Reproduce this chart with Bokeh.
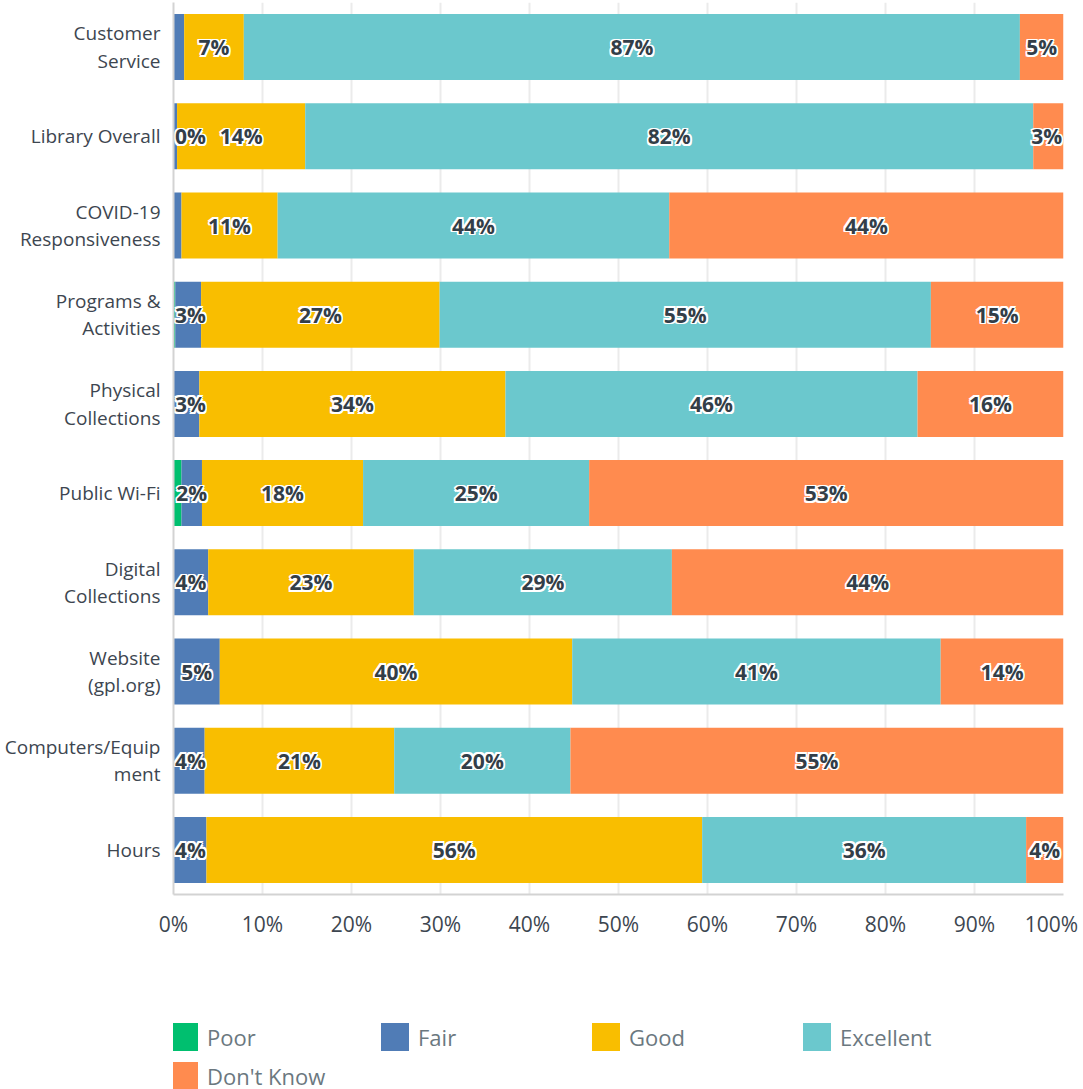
from bokeh.plotting import figure
from bokeh.layouts import column
from bokeh.models import ColumnDataSource, Range1d, FixedTicker, Legend, LegendItem
from bokeh.core.properties import value
from bokeh.embed import file_html
from bokeh.resources import INLINE

categories = ["Customer Service", "Library Overall", "COVID-19 Responsiveness",
              "Programs & Activities", "Physical Collections", "Public Wi-Fi",
              "Digital Collections", "Website (gpl.org)", "Computers/Equipment", "Hours"]
category_labels = ["Customer\nService", "Library Overall", "COVID-19\nResponsiveness",
                   "Programs &\nActivities", "Physical\nCollections", "Public Wi-Fi",
                   "Digital\nCollections", "Website\n(gpl.org)", "Computers/Equip\nment", "Hours"]
series = ["Poor", "Fair", "Good", "Excellent", "Don't Know"]
poor = [0, 0, 0, 0.2, 0, 0.9, 0, 0, 0, 0]
fair = [1.2, 0.4, 0.9, 2.9, 2.9, 2.3, 3.9, 5.2, 3.5, 3.7]
good = [6.7, 14.4, 10.8, 26.8, 34.4, 18.1, 23.1, 39.6, 21.3, 55.7]
excellent = [87.2, 81.8, 44.0, 55.2, 46.3, 25.4, 29.0, 41.4, 19.8, 36.4]
dont_know = [4.9, 3.4, 44.3, 14.9, 16.4, 53.3, 44.0, 13.8, 55.4, 4.2]
hidden_labels = [("Customer Service", "Fair"), ("COVID-19 Responsiveness", "Fair"),
                 ("Programs & Activities", "Poor"), ("Public Wi-Fi", "Poor")]
x_ticks = [0, 10, 20, 30, 40, 50, 60, 70, 80, 90, 100]
x_tick_labels = ["0%", "10%", "20%", "30%", "40%", "50%", "60%", "70%", "80%", "90%", "100%"]

colors = ["#00bf6f", "#507cb6", "#f9be00", "#6bc8cd", "#ff8b4f"]
FONT = "Open Sans"

n = len(categories)
ypos = [n - 1 - i for i in range(n)]
values = [poor, fair, good, excellent, dont_know]

data = {"y": ypos}
for s, v in zip(series, values):
    data[s] = v
source = ColumnDataSource(data)

p = figure(frame_width=890, frame_height=892,
           output_backend="svg", toolbar_location=None,
           x_range=Range1d(0, 100), y_range=Range1d(-0.5, n - 0.5),
           min_border_left=173, min_border_right=20, min_border_top=2, min_border_bottom=60,
           outline_line_color=None, background_fill_color="white")

renderers = p.hbar_stack(series, y="y", height=0.74, color=colors, line_color=None, source=source)

# data labels
lx, ly, lt = [], [], []
for i, cat in enumerate(categories):
    left = 0.0
    for s, v in zip(series, values):
        val = v[i]
        if val > 0 and (cat, s) not in hidden_labels:
            c = left + val / 2
            c = min(max(c, 1.9), 98.1)
            lx.append(c)
            ly.append(ypos[i])
            lt.append(f"{round(val)}%")
        left += val
lsrc = ColumnDataSource(dict(x=lx, y=ly, text=lt))
label_kw = dict(x="x", y="y", text="text", source=lsrc, text_align="center",
                text_baseline="middle", text_font=value(FONT), text_font_style="bold",
                text_font_size="21px")
d = 1.6
for dx, dy in [(-d, 0), (d, 0), (0, -d), (0, d), (-d, -d), (d, d), (-d, d), (d, -d)]:
    p.text(x_offset=dx, y_offset=dy, text_color="white", **label_kw)
p.text(text_color="#333e48", **label_kw)

# axes
tick_text = list(x_tick_labels)
tick_text[-1] = tick_text[-1] + "\u00a0"   # keep the last label inside the canvas
p.xaxis.ticker = FixedTicker(ticks=x_ticks)
p.xaxis.major_label_overrides = {t: l for t, l in zip(x_ticks, tick_text)}
p.yaxis.ticker = FixedTicker(ticks=ypos)
p.yaxis.major_label_overrides = {y: l for y, l in zip(ypos, category_labels)}
for ax in (p.xaxis, p.yaxis):
    ax.axis_line_color = "#d3d3d3"
    ax.axis_line_width = 2
    ax.major_tick_line_color = None
    ax.minor_tick_line_color = None
    ax.major_label_text_font = FONT
    ax.major_label_text_color = "#3d4650"
p.xaxis.major_label_text_font_size = "21px"
p.yaxis.major_label_text_font_size = "19px"
p.xaxis.major_label_standoff = 9
p.yaxis.major_label_standoff = 7
p.yaxis.major_label_text_line_height = 1.05
p.xgrid.ticker = FixedTicker(ticks=x_ticks)
p.xgrid.grid_line_color = "#ebebeb"
p.xgrid.grid_line_width = 2
p.ygrid.grid_line_color = None

# legend strip below the chart (proxy glyphs of zero size carry the colours)
lg = figure(frame_width=890, height=135, output_backend="svg", toolbar_location=None,
            x_range=Range1d(0, 1), y_range=Range1d(0, 1),
            x_axis_location=None, y_axis_location=None,
            min_border_left=173, min_border_right=20, min_border_top=0, min_border_bottom=0,
            outline_line_color=None)
lg.grid.visible = False
proxy = ColumnDataSource(dict(y=[0.0], left=[0.0], right=[0.0]))
legend_renderers = [lg.hbar(y="y", left="left", right="right", height=0.0, color=c,
                            line_color=None, source=proxy) for c in colors]
legend = Legend(items=[LegendItem(label=s, renderers=[r]) for s, r in zip(series, legend_renderers)],
                location=(-7, -4), orientation="horizontal", ncols=4,
                glyph_width=35, glyph_height=35, label_standoff=6, label_width=166,
                spacing=4, padding=0, margin=0, border_line_color=None,
                background_fill_alpha=0, label_text_font=FONT, label_text_font_size="22px",
                label_text_color="#6b787f")
lg.add_layout(legend, "center")

layout = column(p, lg, spacing=0)
open("out.html", "w").write(file_html(layout, INLINE))
